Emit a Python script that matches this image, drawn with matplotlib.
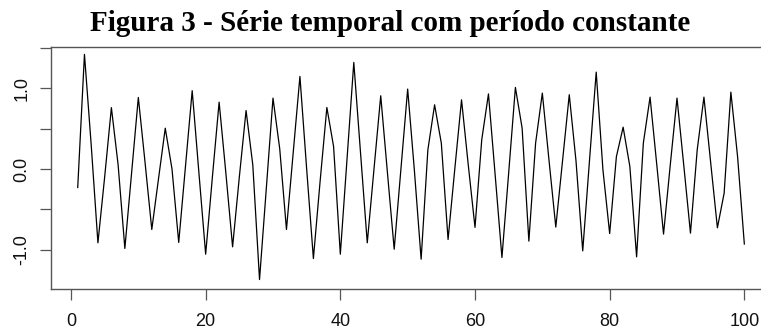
import matplotlib
matplotlib.use("Agg")
import matplotlib.pyplot as plt
import numpy as np

# Data
time_index = list(range(1, 101))
series_values = [
    -0.23, 1.42, 0.30, -0.915, -0.10, 0.76, 0.05, -0.985, -0.05, 0.886,
    0.08, -0.75, -0.12, 0.505, 0.0, -0.91, 0.03, 0.97, -0.05, -1.056,
    -0.10, 0.828, -0.05, -0.965, -0.10, 0.724, 0.05, -1.37, -0.25, 0.878,
    0.25, -0.75, 0.20, 1.147, 0.0, -1.11, -0.15, 0.762, 0.277, -1.056,
    0.13, 1.32, 0.20, -0.915, 0.0, 0.907, -0.05, -0.994, 0.0, 0.99,
    -0.02, -1.118, 0.236, 0.795, 0.319, -0.874, 0.0, 0.857, 0.05, -0.724,
    0.36, 0.93, -0.08, -1.097, -0.05, 1.01, 0.505, -0.894, 0.32, 0.94,
    0.10, -0.72, 0.10, 0.92, 0.10, -1.015, 0.10, 1.20, -0.01, -0.80,
    0.153, 0.518, 0.03, -1.089, 0.32, 0.89, 0.05, -0.807, 0.05, 0.878,
    0.05, -0.795, 0.236, 0.89, 0.08, -0.729, -0.30, 0.952, 0.15, -0.93,
]
x_ticks = [0, 20, 40, 60, 80, 100]
y_ticks = [-1.0, -0.5, 0.0, 0.5, 1.0, 1.5]
y_tick_labels = ["-1.0", "", "0.0", "", "1.0", ""]
title = "Figura 3 - Série temporal com período constante"

W, H = 761, 333
fig = plt.figure(figsize=(W / 100, H / 100), dpi=100)

# axes placement in pixels (right edge is cropped out of the picture)
left_px, right_px = 51.06, 771.0
top_px, bottom_px = 46.7, 289.3
ax = fig.add_axes([left_px / W, 1 - bottom_px / H,
                   (right_px - left_px) / W, (bottom_px - top_px) / H])

ax.plot(time_index, series_values, color="black", linewidth=0.9)
ax.set_xlim(-2.96, 103.96)
ax.set_ylim(-1.491, 1.515)

ax.set_xticks(x_ticks)
ax.set_xticklabels([str(v) for v in x_ticks])
ax.set_yticks(y_ticks)
ax.set_yticklabels(y_tick_labels)

for s in ax.spines.values():
    s.set_color("#555555")
    s.set_linewidth(1.0)

ax.tick_params(axis="both", direction="out", length=8, width=0.9,
               color="#555555", labelsize=13, labelcolor="#111111")
ax.tick_params(axis="x", pad=9.0)
ax.tick_params(axis="y", pad=7.0)
for lab in ax.get_xticklabels() + ax.get_yticklabels():
    lab.set_fontfamily("Liberation Sans")
for lab in ax.get_yticklabels():
    lab.set_rotation(90)
    lab.set_va("center")

fig.text(390 / W, 1 - 31 / H, title, ha="center", va="baseline",
         fontfamily="Liberation Serif", fontweight="bold", fontsize=21)

fig.savefig("out.png", dpi=100)
